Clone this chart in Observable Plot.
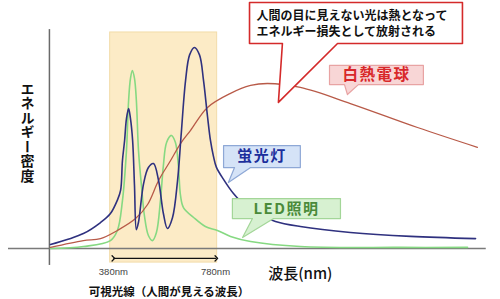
<!DOCTYPE html>
<html>
<head>
<meta charset="utf-8">
<script src="https://cdn.jsdelivr.net/npm/d3@7"></script>
<script src="https://cdn.jsdelivr.net/npm/@observablehq/plot@0.6"></script>
<style>
  html, body { margin: 0; padding: 0; background: #fff; }
  #chart { width: 500px; height: 299px; overflow: hidden; }
  svg { display: block; font-family: "Noto Sans CJK JP", "Noto Sans", sans-serif; }
</style>
</head>
<body>
<div id="chart"></div>
<script>
// ---- data (wavelength nm, relative energy) ----
const fluoWl = [157, 280, 344, 381, 407, 419, 426, 434, 441, 449, 456, 464, 471, 478, 486, 505, 523, 542, 561, 579, 594, 613, 632, 645, 662, 677, 695, 714, 729, 744, 755, 766, 777, 804, 841, 886, 942, 998, 1091, 1278, 1503, 1746];
const fluoE  = [1.8, 6.8, 11.8, 15.9, 22, 26.4, 40, 49.1, 59, 63.6, 59, 49.1, 28.6, 8.6, 12, 29.5, 36.8, 38.6, 30.9, 15.9, 9.1, 14, 30.9, 51, 76.4, 88, 91.4, 88, 76.4, 60, 49.1, 42, 37, 31.4, 25, 19.5, 15.5, 12.3, 10, 7.3, 5.5, 4.5];

const ledWl = [157, 280, 381, 407, 426, 441, 449, 456, 463, 471, 478, 486, 497, 508, 523, 538, 553, 568, 579, 591, 609, 624, 635, 643, 654, 692, 736, 781, 830, 905, 1091, 1465, 1716];
const ledE  = [0, 0.9, 3.6, 8.2, 21.8, 44.5, 67.3, 77.3, 80.9, 77.3, 67.3, 44.5, 28.6, 15, 5.9, 3.6, 7.3, 21.8, 37.7, 48.2, 51.4, 48.2, 37.7, 24.1, 18.6, 14.1, 10, 8.2, 5.5, 3.2, 0.9, 0.5, 0.5];

const incWl = [157, 280, 344, 407, 475, 520, 561, 606, 643, 680, 744, 830, 905, 968, 1091, 1278, 1529, 1753];
const incE  = [0.5, 3.6, 4.5, 8.2, 13.6, 20, 30.9, 40, 47.7, 53.6, 64.1, 70.5, 74.1, 75, 73.2, 65.9, 55, 46];

const visibleRange = [380, 780];
const rangeLabels = ["380nm", "780nm"];
const seriesNames = ["蛍光灯", "LED照明", "白熱電球"];
const noteLines = ["人間の目に見えない光は熱となって", "エネルギー損失として放射される"];
const xTitle = "波長(nm)";
const yTitle = "エネルギー密度";
const rangeTitle = "可視光線（人間が見える波長）";

// ---- tables ----
const toRows = (xs, ys) => xs.map((x, i) => ({x, y: ys[i]}));
const fluo = toRows(fluoWl, fluoE);
const led = toRows(ledWl, ledE);
const inc = toRows(incWl, incE);

// callout shapes (x in nm, y in energy units)
const poly = (pts) => pts.concat([pts[0]]).map(([x, y]) => ({x, y}));
const noteBox = poly([[901,111.8],[1697,111.8],[1697,93.2],[1230,93.2],[1009,66.4],[1024,93.2],[901,93.2]]);
const incBox  = poly([[1200,83.2],[1551,83.2],[1551,74.5],[1308,74.5],[1267,70],[1256,74.5],[1200,74.5]]);
const fluoBox = poly([[804,46.8],[1091,46.8],[1091,36.8],[905,36.8],[822,30],[845,36.8],[804,36.8]]);
const ledBox  = poly([[837,22.7],[1241,22.7],[1241,13.6],[991,13.6],[875,5],[912,13.6],[837,13.6]]);

const chart = Plot.plot({
  width: 500,
  height: 299,
  marginTop: 0,
  marginBottom: 0,
  marginLeft: 8,
  marginRight: 10.5,
  x: {domain: [0, 1800], axis: null},
  y: {domain: [-23.18, 112.73], axis: null},
  style: {background: "#fff", overflow: "visible"},
  marks: [
    // visible light band
    Plot.rect([visibleRange], {x1: d => d[0], x2: d => d[1], y1: -6.4, y2: 98.2, fill: "#fcebc6", stroke: "#f2dcaa", strokeWidth: 1}),
    // axes
    Plot.ruleY([0], {x1: 0, x2: 1786, stroke: "#7a7a7a", strokeWidth: 1.5}),
    Plot.ruleX([153], {y1: -7.7, y2: 99.5, stroke: "#6a6a6a", strokeWidth: 1.5}),
    // curves
    Plot.line(led, {x: "x", y: "y", stroke: "#86d982", strokeWidth: 1.6, curve: "catmull-rom"}),
    Plot.line(inc, {x: "x", y: "y", stroke: "#b85a48", strokeWidth: 1.3, curve: "catmull-rom"}),
    Plot.line(fluo, {x: "x", y: "y", stroke: "#2f317f", strokeWidth: 1.6, curve: "catmull-rom"}),
    // range arrow and labels
    Plot.link([visibleRange], {x1: d => d[0] + 12, x2: d => d[1] - 3, y1: -4.5, y2: -4.5, stroke: "#111", strokeWidth: 1.3, markerStart: "arrow", markerEnd: "arrow"}),
    Plot.text(rangeLabels, {x: (d, i) => visibleRange[i] + (i === 0 ? 12 : -6), y: -10.6, text: d => d, fontSize: 9.5, fill: "#444", fontFamily: "Liberation Sans, Arial, sans-serif"}),
    Plot.text([rangeTitle], {x: 600, y: -20, text: d => d, fontSize: 11.5, fontWeight: "bold", fill: "#111"}),
    Plot.text([xTitle], {x: 1091, y: -11.8, text: d => d, fontSize: 15, fontWeight: 500, fill: "#111"}),
    Plot.text([yTitle], {x: 71, y: 54.8, text: d => d, fontSize: 14, fontWeight: "bold", fill: "#111", className: "ylab"}),
    // callouts
    Plot.line(noteBox, {x: "x", y: "y", stroke: "#d42a2a", strokeWidth: 1.6, fill: "#fff", curve: "linear"}),
    Plot.text(noteLines, {x: 927, y: (d, i) => i === 0 ? 105.5 : 98.2, text: d => d, textAnchor: "start", fontSize: 12, fontWeight: "bold", fill: "#111"}),
    Plot.line(incBox, {x: "x", y: "y", stroke: "#e8a3a3", strokeWidth: 1.2, fill: "#f8d6d6", curve: "linear"}),
    Plot.text([seriesNames[2]], {x: 1376, y: 78.8, text: d => d, fontSize: 15.5, fontWeight: "bold", fill: "#d8282a", className: "spaced"}),
    Plot.line(fluoBox, {x: "x", y: "y", stroke: "#8ea8d6", strokeWidth: 1.2, fill: "#d5e3f7", curve: "linear"}),
    Plot.text([seriesNames[0]], {x: 948, y: 41.8, text: d => d, fontSize: 15, fontWeight: "bold", fill: "#1c2f9c", className: "spaced"}),
    Plot.line(ledBox, {x: "x", y: "y", stroke: "#a3d698", strokeWidth: 1.2, fill: "#d7f1d1", curve: "linear"}),
    Plot.text([seriesNames[1]], {x: 1039, y: 17.9, text: d => d, fontSize: 15, fontWeight: "bold", fill: "#4a8a3a", className: "spaced"})
  ]
});

d3.select(chart).selectAll(".ylab text")
  .attr("dy", null)
  .style("writing-mode", "vertical-rl")
  .style("letter-spacing", "0.5px");
d3.select(chart).selectAll(".spaced text").style("letter-spacing", "1.5px");

document.getElementById("chart").appendChild(chart);
</script>
</body>
</html>
